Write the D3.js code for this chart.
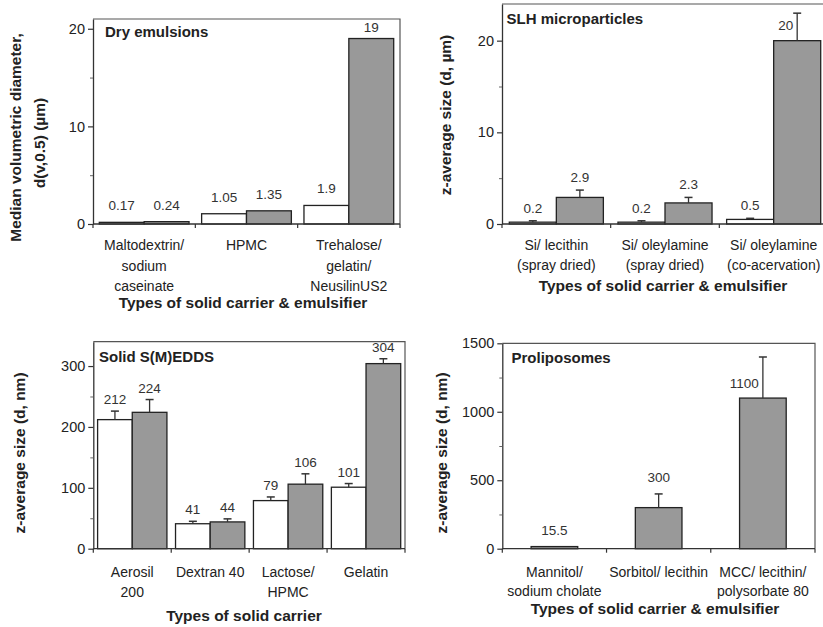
<!DOCTYPE html>
<html>
<head>
<meta charset="utf-8">
<script src="https://cdn.jsdelivr.net/npm/d3@7/dist/d3.min.js"></script>
<style>
  html, body { margin: 0; padding: 0; background: #fff; }
  svg { display: block; }
  text { font-family: "Liberation Sans", Arial, Helvetica, sans-serif; fill: #222; }
</style>
</head>
<body>
<svg id="chart" width="823" height="627"></svg>
<script>
// ---------- DATA ----------
// Panel A: Dry emulsions
const dryCategories = [["Maltodextrin/", "sodium", "caseinate"], ["HPMC"], ["Trehalose/", "gelatin/", "NeusilinUS2"]];
const dryWhite = [0.17, 1.05, 1.9];
const dryGray = [0.24, 1.35, 19];
const dryTicks = [0, 10, 20];
const dryMinorTicks = [5, 15];

// Panel B: SLH microparticles
const slhCategories = [["Si/ lecithin", "(spray dried)"], ["Si/ oleylamine", "(spray dried)"], ["Si/ oleylamine", "(co-acervation)"]];
const slhWhite = [0.2, 0.2, 0.5];
const slhWhiteErr = [0.15, 0.15, 0.12];
const slhGray = [2.9, 2.3, 20];
const slhGrayErr = [0.8, 0.6, 3];
const slhTicks = [0, 10, 20];
const slhMinorTicks = [5, 15];

// Panel C: Solid S(M)EDDS
const smeddsCategories = [["Aerosil", "200"], ["Dextran 40"], ["Lactose/", "HPMC"], ["Gelatin"]];
const smeddsWhite = [212, 41, 79, 101];
const smeddsWhiteErr = [14, 4, 6, 6];
const smeddsGray = [224, 44, 106, 304];
const smeddsGrayErr = [21, 5, 17, 8];
const smeddsTicks = [0, 100, 200, 300];
const smeddsMinorTicks = [50, 150, 250];

// Panel D: Proliposomes
const proCategories = [["Mannitol/", "sodium cholate"], ["Sorbitol/ lecithin"], ["MCC/ lecithin/", "polysorbate 80"]];
const proGray = [15.5, 300, 1100];
const proGrayErr = [0, 100, 300];
const proTicks = [0, 500, 1000, 1500];
const proMinorTicks = [250, 750, 1250];

// ---------- DRAWING ----------
const svg = d3.select("#chart");
svg.append("rect").attr("width", 823).attr("height", 627).attr("fill", "#fff");

const AXIS = "#333";
const FRAME = "#555";
const GRAY = "#999999";

function drawPanel(cfg) {
  const g = svg.append("g");
  const nCat = cfg.categories.length;
  const x = d3.scaleBand().domain(d3.range(nCat)).range([cfg.left, cfg.right]).padding(0);
  const sub = d3.scaleBand().domain(cfg.series.map(s => s.key))
    .range([cfg.inset, x.bandwidth() - cfg.inset]).padding(0);
  const y = d3.scaleLinear().domain([0, cfg.yMax]).range([cfg.bottom, cfg.top]);

  // frame (top and right)
  g.append("path")
    .attr("d", `M${cfg.left},${cfg.top}H${cfg.right}V${cfg.bottom}`)
    .attr("fill", "none").attr("stroke", FRAME).attr("stroke-width", 1.2);

  // bars
  cfg.series.forEach(s => {
    g.selectAll(null).data(s.values).enter().append("rect")
      .attr("x", (d, i) => x(i) + sub(s.key))
      .attr("y", d => y(d))
      .attr("width", sub.bandwidth())
      .attr("height", d => y(0) - y(d))
      .attr("fill", s.fill)
      .attr("stroke", "#222")
      .attr("stroke-width", 1.3);
  });

  // error bars
  cfg.series.forEach(s => {
    if (!s.err) return;
    s.values.forEach((v, i) => {
      const e = s.err[i];
      if (!e) return;
      const cx = x(i) + sub(s.key) + sub.bandwidth() / 2;
      g.append("line").attr("x1", cx).attr("x2", cx).attr("y1", y(v)).attr("y2", y(v + e))
        .attr("stroke", "#333").attr("stroke-width", 1.3);
      g.append("line").attr("x1", cx - 4).attr("x2", cx + 4).attr("y1", y(v + e)).attr("y2", y(v + e))
        .attr("stroke", "#333").attr("stroke-width", 1.5);
    });
  });

  // value labels
  cfg.series.forEach(s => {
    s.values.forEach((v, i) => {
      const e = s.err ? s.err[i] : 0;
      const cx = x(i) + sub(s.key) + sub.bandwidth() / 2;
      let base = y(v + e) - cfg.labelGap;
      let tx = cx, anchor = "middle";
      if (base - 9 < cfg.top) {
        if (e > 0) {
          base = y(v) - 10.5;
          tx = cx - 4; anchor = "end";
        } else {
          base = cfg.top + 13;
        }
      }
      g.append("text").attr("x", tx).attr("y", base).attr("text-anchor", anchor)
        .style("font-size", "13.5px").style("fill", "#333").text(String(v));
    });
  });

  // y axis (major)
  const ya = g.append("g").attr("transform", `translate(${cfg.left},0)`)
    .call(d3.axisLeft(y).tickValues(cfg.ticks).tickSize(5).tickSizeOuter(0).tickPadding(3).tickFormat(d3.format("d")));
  ya.select(".domain").attr("stroke", AXIS).attr("stroke-width", 1.3);
  ya.selectAll(".tick line").attr("stroke", AXIS).attr("stroke-width", 1.2);
  ya.selectAll(".tick text").style("font-size", "14.5px").style("fill", "#222")
    .style("font-family", '"Liberation Sans", Arial, sans-serif');
  // minor ticks
  const ym = g.append("g").attr("transform", `translate(${cfg.left},0)`)
    .call(d3.axisLeft(y).tickValues(cfg.minor).tickSize(3).tickSizeOuter(0).tickFormat(""));
  ym.select(".domain").remove();
  ym.selectAll(".tick line").attr("stroke", "#666").attr("stroke-width", 1);

  // x axis line
  g.append("line").attr("x1", cfg.left).attr("x2", cfg.right).attr("y1", cfg.bottom).attr("y2", cfg.bottom)
    .attr("stroke", AXIS).attr("stroke-width", 1.3);
  // category boundary ticks
  const bounds = d3.range(nCat + 1).map(i => i < nCat ? x(i) : cfg.right);
  g.selectAll(null).data(bounds).enter().append("line")
    .attr("x1", d => d).attr("x2", d => d)
    .attr("y1", cfg.bottom).attr("y2", cfg.bottom + 4)
    .attr("stroke", AXIS).attr("stroke-width", 1.2);

  // category labels
  cfg.categories.forEach((lines, i) => {
    const cx = x(i) + x.bandwidth() / 2;
    const t = g.append("text").attr("text-anchor", "middle").style("font-size", "14px").style("fill", "#222");
    lines.forEach((ln, k) => {
      t.append("tspan").attr("x", cx).attr("y", cfg.catY + k * cfg.catStep).text(ln);
    });
  });

  // x title
  g.append("text").attr("x", cfg.xTitleX).attr("y", cfg.xTitleY).attr("text-anchor", "middle")
    .style("font-size", "15.5px").style("font-weight", "bold").text(cfg.xTitle);

  // y title (rotated)
  cfg.yTitle.forEach((ln, k) => {
    g.append("text")
      .attr("transform", `translate(${cfg.yTitleX[k]},${cfg.yTitleY[k]}) rotate(-90)`)
      .attr("text-anchor", "middle").attr("dy", "0.35em")
      .style("font-size", "15.5px").style("font-weight", "bold").text(ln);
  });

  // panel title
  g.append("text").attr("x", cfg.titleX).attr("y", cfg.titleY)
    .style("font-size", "15px").style("font-weight", "bold").text(cfg.title);
}

drawPanel({
  categories: dryCategories,
  series: [{ key: "a", values: dryWhite, fill: "#fff" }, { key: "b", values: dryGray, fill: GRAY }],
  left: 93, right: 400, top: 19, bottom: 224, yMax: 21, inset: 6.3,
  ticks: dryTicks, minor: dryMinorTicks, labelGap: 12,
  catY: 250, catStep: 20.5,
  xTitle: "Types of solid carrier & emulsifier", xTitleX: 243, xTitleY: 308,
  yTitle: ["Median volumetric diameter,", "d(v,0.5) (\u00b5m)"], yTitleX: [16, 40], yTitleY: [137.5, 143],
  title: "Dry emulsions", titleX: 105, titleY: 37
});

drawPanel({
  categories: slhCategories,
  series: [{ key: "a", values: slhWhite, err: slhWhiteErr, fill: "#fff" }, { key: "b", values: slhGray, err: slhGrayErr, fill: GRAY }],
  left: 502, right: 828, top: 4, bottom: 224, yMax: 24, inset: 7.3,
  ticks: slhTicks, minor: slhMinorTicks, labelGap: 8,
  catY: 250, catStep: 20,
  xTitle: "Types of solid carrier & emulsifier", xTitleX: 663, xTitleY: 291,
  yTitle: ["z-average size (d, \u00b5m)"], yTitleX: [446], yTitleY: [115],
  title: "SLH microparticles", titleX: 506.5, titleY: 23.5
});

drawPanel({
  categories: smeddsCategories,
  series: [{ key: "a", values: smeddsWhite, err: smeddsWhiteErr, fill: "#fff" }, { key: "b", values: smeddsGray, err: smeddsGrayErr, fill: GRAY }],
  left: 93.3, right: 405, top: 341.7, bottom: 548.7, yMax: 340, inset: 4.3,
  ticks: smeddsTicks, minor: smeddsMinorTicks, labelGap: 7,
  catY: 576.5, catStep: 20.5,
  xTitle: "Types of solid carrier", xTitleX: 244, xTitleY: 620.5,
  yTitle: ["z-average size (d, nm)"], yTitleX: [20], yTitleY: [453],
  title: "Solid S(M)EDDS", titleX: 99, titleY: 362
});

drawPanel({
  categories: proCategories,
  series: [{ key: "b", values: proGray, err: proGrayErr, fill: GRAY }],
  left: 502.3, right: 815, top: 343.3, bottom: 548.7, yMax: 1500, inset: 28.8,
  ticks: proTicks, minor: proMinorTicks, labelGap: 12,
  catY: 576.5, catStep: 19.5,
  xTitle: "Types of solid carrier & emulsifier", xTitleX: 655, xTitleY: 614,
  yTitle: ["z-average size (d, nm)"], yTitleX: [442], yTitleY: [453],
  title: "Proliposomes", titleX: 511.5, titleY: 363
});
</script>
</body>
</html>
